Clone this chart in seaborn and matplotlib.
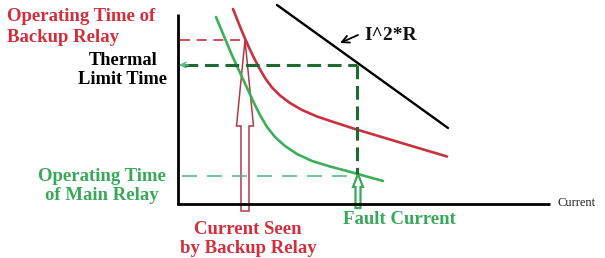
import matplotlib
matplotlib.use("Agg")
import matplotlib.pyplot as plt
import seaborn as sns
from matplotlib.patches import FancyArrow

# ---- data (diagram units: x = current, y = time, measured downward) ----
backup_x = [233, 237, 241, 245, 249, 254, 259, 265, 272, 280, 290, 302, 317, 335, 355, 380, 410, 447]
backup_y = [9, 19, 29, 38.5, 47.5, 58, 67.5, 78, 87.5, 95.5, 103, 110, 116.5, 122.5, 129, 136.5, 145.5, 156.5]
main_x = [216, 221, 226, 231, 236, 242, 248, 254, 260, 267, 275, 285, 297, 312, 330, 347, 365, 383]
main_y = [17, 29, 41, 53, 64, 77, 90, 103, 115, 127, 137, 146, 154, 161, 166.5, 171, 176, 181]
i2r_x = [277, 448]
i2r_y = [5, 128]

backup_time = 40
thermal_time = 65
main_time = 176
fault_current = 357
backup_current = 245

axis_x0, axis_y0 = 178, 204
axis_xmax, axis_ytop = 550, 14

RED = "#d22f3c"
RED_LINE = "#c8313f"
RED_ARROW = "#b03a48"
GREEN = "#3aa85a"
GREEN_LINE = "#3daf5a"
DKGREEN = "#1f6a32"
LTGREEN = "#5cb884"

sns.set_theme(style="white")
plt.rcParams["font.family"] = ["Liberation Serif", "DejaVu Serif"]

fig = plt.figure(figsize=(6.05, 2.58), dpi=100)
ax = fig.add_axes([0, 0, 1, 1])
ax.set_xlim(0, 605)
ax.set_ylim(258, 0)
ax.axis("off")

# axes of the diagram
ax.plot([axis_x0, axis_x0], [axis_ytop, axis_y0 + 1], color="black", lw=2.0, solid_capstyle="butt")
ax.plot([axis_x0 - 1, axis_xmax], [axis_y0, axis_y0], color="black", lw=2.0, solid_capstyle="butt")
ax.text(axis_xmax + 7, axis_y0 - 1, "Current", fontsize=9, va="center", ha="left", color="#222222")

# curves
sns.lineplot(x=i2r_x, y=i2r_y, ax=ax, color="black", lw=1.7, sort=False, estimator=None)
sns.lineplot(x=backup_x, y=backup_y, ax=ax, color=RED_LINE, lw=1.9, sort=False, estimator=None)
sns.lineplot(x=main_x, y=main_y, ax=ax, color=GREEN_LINE, lw=1.9, sort=False, estimator=None)

# level lines
ax.plot([axis_x0 + 2, backup_current], [backup_time, backup_time], color=RED_LINE, lw=1.2,
        dashes=(6, 4))
ax.plot([axis_x0 + 4, fault_current], [main_time, main_time], color=LTGREEN, lw=1.2,
        dashes=(9, 6))
ax.plot([axis_x0 + 6, fault_current], [thermal_time, thermal_time], color=DKGREEN, lw=2.2,
        dashes=(4.5, 2.2))
ax.plot([fault_current, fault_current], [thermal_time, main_time - 2], color=DKGREEN, lw=2.2,
        dashes=(4.5, 2.2))
ax.annotate("", xy=(axis_x0 + 1, thermal_time), xytext=(axis_x0 + 10, thermal_time),
            arrowprops=dict(arrowstyle="->", color=LTGREEN, lw=1.2,
                            shrinkA=0, shrinkB=0, mutation_scale=9))

# hollow arrows
ax.add_patch(FancyArrow(backup_current, 211, 0, backup_time - 211, width=8, head_width=17,
                        head_length=86, length_includes_head=True, fill=False,
                        edgecolor=RED_ARROW, lw=1.1))
ax.add_patch(FancyArrow(fault_current + 1, 208, 0, 174 - 208, width=5, head_width=10,
                        head_length=13, length_includes_head=True, fill=False,
                        edgecolor=GREEN, lw=1.6))

# I^2*R label
ax.annotate("", xy=(340, 43), xytext=(358, 35),
            arrowprops=dict(arrowstyle="->", color="black", lw=1.3,
                            shrinkA=0, shrinkB=0, mutation_scale=13))
ax.text(364, 36, "I^2*R", fontsize=14, fontweight="bold", va="center", ha="left", color="#111111")

# text labels
ax.text(7, 27, "Operating Time of\nBackup Relay", fontsize=13.5, fontweight="bold",
        color=RED, va="center", ha="left", linespacing=1.3)
ax.text(123, 70, "Thermal\nLimit Time", fontsize=13.2, fontweight="bold",
        color="black", va="center", ha="center", multialignment="center", linespacing=1.2)
ax.text(102, 186, "Operating Time\nof Main Relay", fontsize=13.5, fontweight="bold",
        color=GREEN, va="center", ha="center", multialignment="center", linespacing=1.2)
ax.text(248, 239, "Current Seen\nby Backup Relay", fontsize=13.5, fontweight="bold",
        color=RED, va="center", ha="center", multialignment="center", linespacing=1.2)
ax.text(399, 219, "Fault Current", fontsize=13.5, fontweight="bold",
        color=GREEN, va="center", ha="center")

fig.savefig("out.png", dpi=100, facecolor="white")
